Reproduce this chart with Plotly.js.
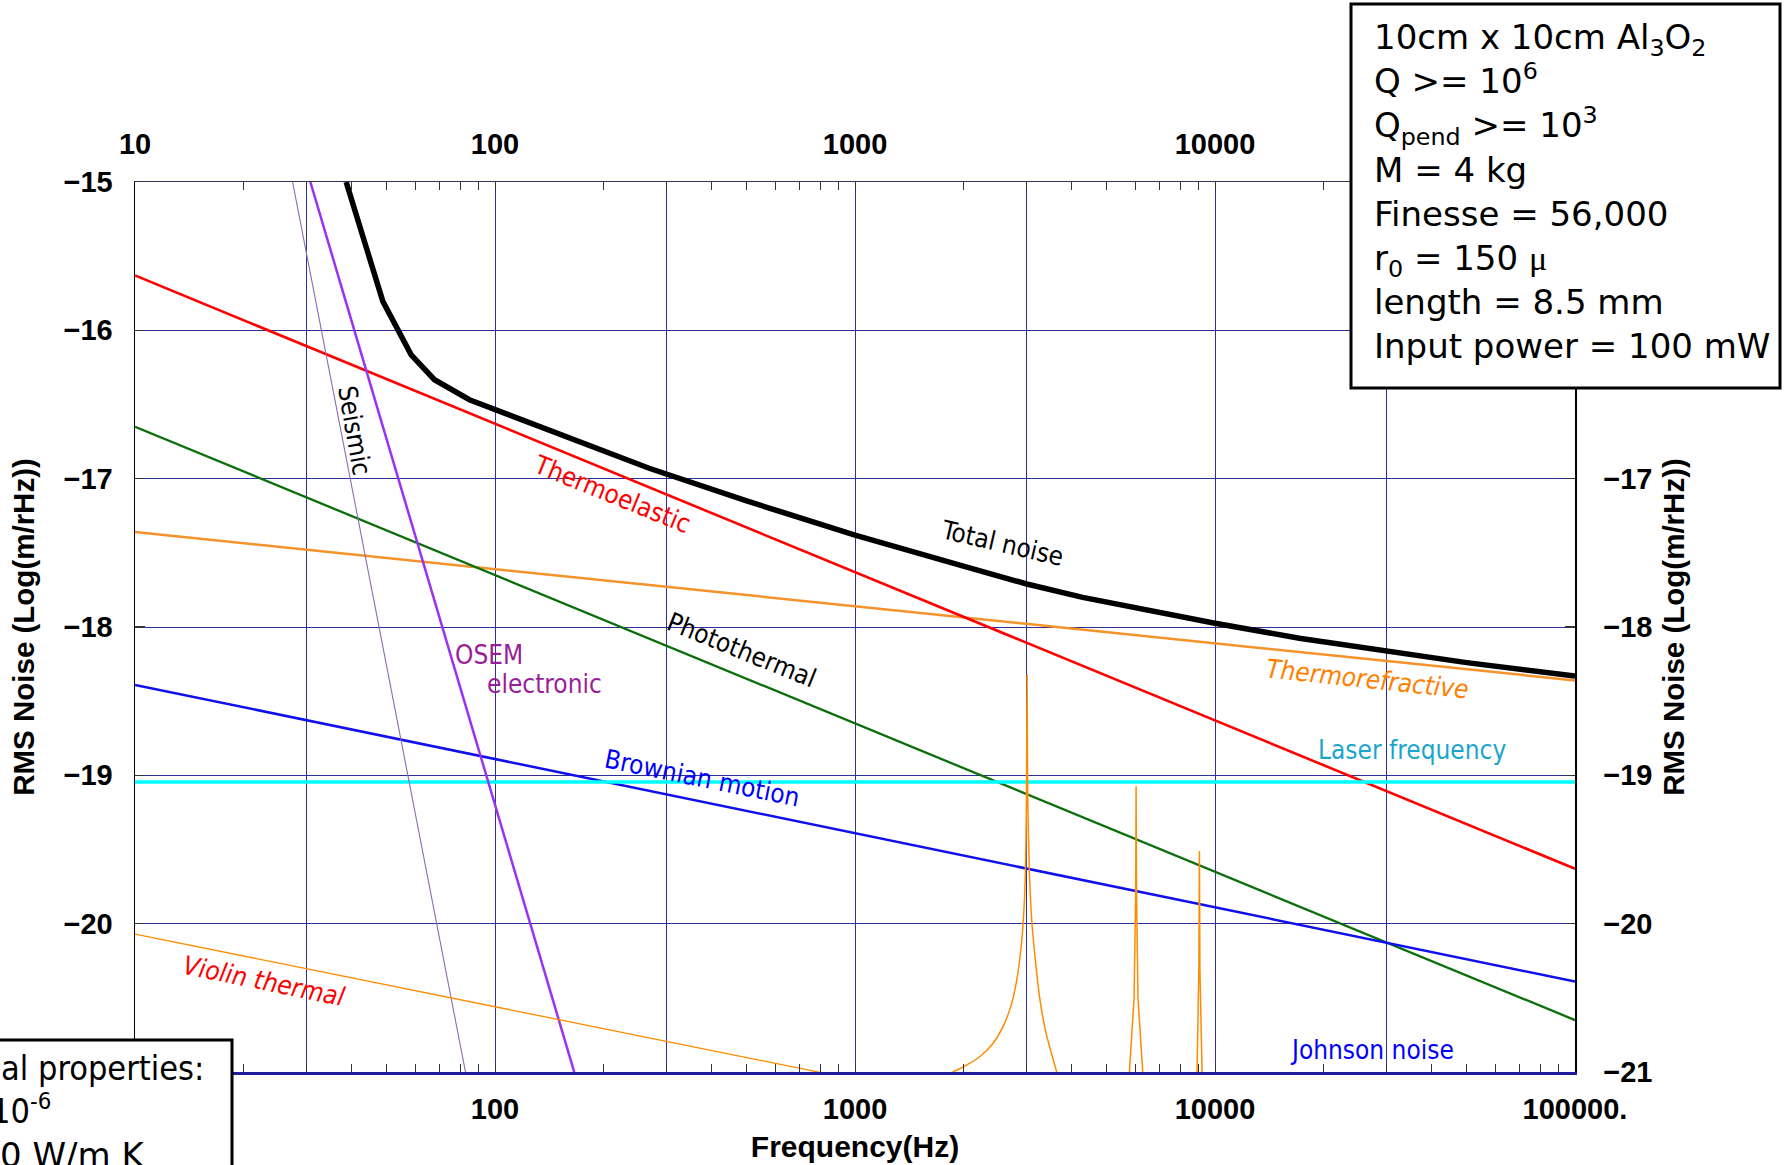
<!DOCTYPE html>
<html>
<head>
<meta charset="utf-8">
<script src="https://cdn.plot.ly/plotly-3.0.1.min.js"></script>
<style>
  html, body { margin: 0; padding: 0; background: #ffffff; }
  #chart { width: 1787px; height: 1165px; }
</style>
</head>
<body>
<div id="chart"></div>
<script>
// ---------------- data ----------------
const freqDecades = [10, 100, 1000, 10000, 100000];
const thermoelastic = [-15.63, -16.63, -17.63, -18.63, -19.63];
const photothermal = [-16.65, -17.65, -18.65, -19.65, -20.65];
const thermorefractive = [-17.36, -17.61, -17.86, -18.11, -18.36];
const brownian = [-18.39, -18.89, -19.39, -19.89, -20.39];
const laserFrequency = [-19.045, -19.045, -19.045, -19.045, -19.045];

const violinFreq = [10, 100, 1000];
const violinThermal = [-20.07, -20.56, -21.05];

const osemFreq = [30.7, 100, 166];
const osemElectronic = [-15.0, -19.19, -21.0];

const seismicFreq = [27.4, 50, 82.8];
const seismic = [-15.0, -18.26, -21.0];

const totalFreq = [38.6, 48.8, 58.5, 67.9, 84.9, 100.7, 175, 268, 500, 1000, 2000, 3000, 4290, 6000, 10000, 17150, 30000, 50000, 100000];
const totalNoise = [-15.0, -15.805, -16.165, -16.333, -16.468, -16.536, -16.76, -16.93, -17.15, -17.38, -17.59, -17.71, -17.80, -17.87, -17.975, -18.076, -18.165, -18.24, -18.33];

const peak1Freq = [1868, 2035, 2216, 2413, 2573, 2714, 2813, 2894, 2942, 2974, 2994, 3006, 3019, 3052, 3097, 3170, 3266, 3395, 3634];
const peak1 = [-21.0, -20.955, -20.899, -20.809, -20.697, -20.551, -20.382, -20.157, -19.932, -19.662, -19.167, -18.324, -19.167, -19.662, -19.977, -20.247, -20.517, -20.74, -21.0];
const peak2Freq = [5783, 5960, 6020, 6037, 6055, 6110, 6299];
const peak2 = [-21.0, -20.5, -19.8, -19.073, -19.8, -20.5, -21.0];
const peak3Freq = [8915, 9020, 9051, 9080, 9207];
const peak3 = [-21.0, -20.3, -19.51, -20.3, -21.0];

const xLabelValsBottom = [100, 1000, 10000, 100000];
const xLabelTextBottom = ['100', '1000', '10000', '100000.'];
const xLabelValsTop = [10, 100, 1000, 10000];
const xLabelTextTop = ['10', '100', '1000', '10000'];
const xThirdGrid = [30, 300, 3000, 30000];
const yLabelValsLeft = [-20, -19, -18, -17, -16, -15];
const yLabelValsRight = [-21, -20, -19, -18, -17];

// ---------------- styling ----------------
const GRID = '#2e2e96';
const TICKC = '#333333';
const tickFont = {family: 'Liberation Sans, Arial, sans-serif', size: 29, color: '#000', weight: 700};
const labelFamily = 'DejaVu Sans Condensed, DejaVu Sans, sans-serif';
const boxFamily = 'DejaVu Sans, Verdana, sans-serif';

const minorVals = [];
for (let d = 10; d < 100000; d *= 10) {
  [2, 3, 4, 5, 6, 7, 8, 9].forEach(m => minorVals.push(m * d));
}

function line(x, y, color, width, extra) {
  return Object.assign({x: x, y: y, mode: 'lines', type: 'scatter', hoverinfo: 'skip',
    line: {color: color, width: width}, showlegend: false}, extra || {});
}

const traces = [
  line(freqDecades, thermorefractive, '#f5922a', 2.5),
  line(freqDecades, photothermal, '#0a6e0a', 2.3),
  line(freqDecades, brownian, '#1010ee', 2.5),
  line(freqDecades, thermoelastic, '#ff0000', 2.6),
  line(freqDecades, laserFrequency, '#00ffff', 3.3),
  line(peak1Freq, peak1, '#ff8c00', 1.5, {line: {color: '#ff8c00', width: 1.5, shape: 'spline', smoothing: 0.6}}),
  line(peak2Freq, peak2, '#ff8c00', 1.5),
  line(peak3Freq, peak3, '#ff8c00', 1.5, {xaxis: 'x3'}),
  line(osemFreq, osemElectronic, '#9933ee', 2.5),
  line(totalFreq, totalNoise, '#000000', 5.5),
  line(violinFreq, violinThermal, '#ff8c00', 1.3, {xaxis: 'x2'}),
  line(seismicFreq, seismic, '#8e6bb0', 1.1, {yaxis: 'y2'})
];

const W = 1787, H = 1165, L = 135, R = 1575, T = 182, B = 1072;
function px(X) { return (X - L) / (R - L); }
function py(Y) { return (B - Y) / (B - T); }

function label(text, X, Y, color, angle, style) {
  const f = {family: labelFamily, size: 26, color: color};
  if (style) f.style = style;
  return {
    xref: 'paper', yref: 'paper', x: px(X), y: py(Y), text: text, showarrow: false,
    xanchor: 'center', yanchor: 'middle', textangle: angle || 0, font: f
  };
}

const boxText = '10cm x 10cm Al<sub>3</sub>O<sub>2</sub><br>' +
  'Q &gt;= 10<sup>6</sup><br>' +
  'Q<sub>pend</sub> &gt;= 10<sup>3</sup><br>' +
  'M = 4 kg<br>' +
  'Finesse = 56,000<br>' +
  'r<sub>0</sub> = 150 <span style="font-family:Liberation Serif, serif">\u03bc</span><br>' +
  'length = 8.5 mm<br>' +
  'Input power = 100 mW';

const boxFont = {family: boxFamily, size: 34, color: '#000'};
const boxFontNarrow = {family: labelFamily, size: 34, color: '#000'};

const annotations = [
  label('Seismic', 354.5, 430, '#000000', 80),
  label('Thermoelastic', 612, 493.5, '#ff0000', 22),
  label('Total noise', 1002, 542.5, '#000000', 13),
  label('Photothermal', 742, 649.6, '#000000', 22),
  label('Thermorefractive', 1367.6, 679, '#ff8000', 6, 'italic'),
  label('Laser frequency', 1411.5, 750, '#1aa6cc', 0),
  label('Brownian motion', 702, 778.4, '#0000ff', 11.5),
  label('OSEM', 489, 655, '#991f99', 0),
  label('electronic', 544, 684, '#991f99', 0),
  label('Violin thermal', 264, 981, '#ff0000', 11.5, 'italic'),
  label('Johnson noise', 1372, 1050, '#0000ff', 0),
  {xref: 'paper', yref: 'paper', x: px(1372), y: py(14.5), xanchor: 'left', yanchor: 'top',
   align: 'left', showarrow: false, text: boxText, font: boxFont},
  {xref: 'paper', yref: 'paper', x: px(206), y: py(1068), xanchor: 'right', yanchor: 'middle',
   showarrow: false, text: 'al properties:', font: boxFontNarrow},
  {xref: 'paper', yref: 'paper', x: px(53), y: py(1133), xanchor: 'right', yanchor: 'bottom',
   showarrow: false, text: '10<sup>-6</sup>', font: boxFontNarrow},
  {xref: 'paper', yref: 'paper', x: px(147), y: py(1177), xanchor: 'right', yanchor: 'bottom',
   showarrow: false, text: '0 W/m K', font: {family: boxFamily, size: 34, color: '#000'}}
];

const shapes = [
  {type: 'rect', xref: 'paper', yref: 'paper', layer: 'above',
   x0: px(1351), x1: px(1780), y0: py(388), y1: py(4),
   line: {color: '#000', width: 3}, fillcolor: '#ffffff'},
  {type: 'rect', xref: 'paper', yref: 'paper', layer: 'above',
   x0: px(-10), x1: px(232), y0: py(1180), y1: py(1040),
   line: {color: '#000', width: 3}, fillcolor: '#ffffff'}
];

const titleFontY = {family: 'Liberation Sans, Arial, sans-serif', size: 29.5, color: '#000', weight: 700};
const titleFontX = {family: 'Liberation Sans, Arial, sans-serif', size: 30, color: '#000', weight: 700};
const yTitle = 'RMS Noise (Log(m/rHz))';

const minorX = {tickmode: 'array', tickvals: minorVals, ticks: 'inside', ticklen: 8, tickwidth: 1, tickcolor: TICKC, showgrid: false};

const layout = {
  width: W, height: H, autosize: false,
  paper_bgcolor: '#ffffff', plot_bgcolor: '#ffffff',
  margin: {l: L, r: W - R, t: T, b: H - B, pad: 0},
  showlegend: false,
  xaxis: {
    type: 'log', range: [1, 5], anchor: 'y',
    tickmode: 'array', tickvals: xLabelValsBottom, ticktext: xLabelTextBottom,
    ticks: 'inside', ticklen: 8, tickwidth: 1, tickcolor: TICKC,
    minor: minorX,
    showgrid: true, gridcolor: GRID, gridwidth: 1, zeroline: false,
    showline: true, linecolor: '#1c1c9c', linewidth: 3,
    tickfont: tickFont, ticklabelstandoff: 9,
    title: {text: 'Frequency(Hz)', font: titleFontX, standoff: 13}
  },
  xaxis2: {
    type: 'log', range: [1, 5], overlaying: 'x', side: 'top', anchor: 'y',
    tickmode: 'array', tickvals: xLabelValsTop, ticktext: xLabelTextTop,
    ticks: 'inside', ticklen: 8, tickwidth: 1, tickcolor: TICKC,
    minor: minorX,
    showgrid: false, zeroline: false,
    showline: true, linecolor: '#333355', linewidth: 1.2,
    tickfont: tickFont, ticklabelstandoff: 15
  },
  xaxis3: {
    type: 'log', range: [1, 5], overlaying: 'x', side: 'bottom', anchor: 'y',
    tickmode: 'array', tickvals: xThirdGrid, showticklabels: false, ticks: '',
    showgrid: true, gridcolor: GRID, gridwidth: 1, zeroline: false, showline: false
  },
  yaxis: {
    range: [-21, -15], anchor: 'x',
    tickmode: 'array', tickvals: yLabelValsLeft,
    ticks: 'inside', ticklen: 10, tickwidth: 1.5, tickcolor: TICKC,
    showgrid: true, gridcolor: GRID, gridwidth: 1, zeroline: false,
    showline: true, linecolor: '#000', linewidth: 1.5,
    tickfont: tickFont, ticklabelstandoff: 15,
    title: {text: yTitle, font: titleFontY, standoff: 20}
  },
  yaxis2: {
    range: [-21, -15], overlaying: 'y', side: 'right', anchor: 'x',
    tickmode: 'array', tickvals: yLabelValsRight,
    ticks: 'inside', ticklen: 10, tickwidth: 1.5, tickcolor: TICKC,
    showgrid: false, zeroline: false,
    showline: true, linecolor: '#000', linewidth: 1.5,
    tickfont: tickFont, ticklabelstandoff: 21,
    title: {text: yTitle, font: titleFontY, standoff: 12}
  },
  annotations: annotations,
  shapes: shapes
};

Plotly.newPlot('chart', traces, layout, {displayModeBar: false, staticPlot: true});
</script>
</body>
</html>
